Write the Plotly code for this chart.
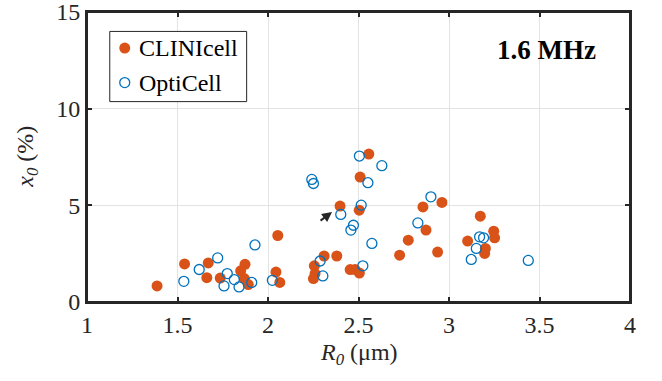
import plotly.graph_objects as go

# CLINIcell (filled)
clini_r0 = [1.387, 1.539, 1.670, 1.662, 1.736, 1.873, 1.849, 1.869, 1.891, 2.054,
            2.044, 2.065, 2.256, 2.260, 2.251, 2.310, 2.380, 2.398, 2.504, 2.509,
            2.557, 2.454, 2.481, 2.505, 2.727, 2.775, 2.873, 2.856, 2.961, 2.937,
            3.173, 3.103, 3.247, 3.252, 3.201, 3.197]
clini_x0 = [0.83, 1.97, 2.02, 1.26, 1.24, 1.95, 1.61, 1.21, 0.90, 3.44,
            1.55, 1.01, 1.87, 1.47, 1.21, 2.38, 2.38, 4.96, 4.75, 6.46,
            7.65, 1.68, 1.68, 1.50, 2.42, 3.20, 3.72, 4.92, 5.15, 2.58,
            4.44, 3.15, 3.66, 3.32, 2.77, 2.51]

# OptiCell (open)
opti_r0 = [1.535, 1.620, 1.722, 1.775, 1.757, 1.814, 1.840, 1.910, 1.928, 2.024,
           2.242, 2.251, 2.505, 2.629, 2.552, 2.515, 2.402, 2.472, 2.458, 2.574,
           2.288, 2.303, 2.524, 2.900, 2.828, 3.169, 3.191, 3.151, 3.123, 3.438]
opti_x0 = [1.07, 1.68, 2.28, 1.47, 0.83, 1.16, 0.78, 1.01, 2.95, 1.12,
           6.34, 6.13, 7.55, 7.05, 6.17, 5.01, 4.53, 3.97, 3.72, 3.03,
           2.12, 1.35, 1.87, 5.44, 4.09, 3.37, 3.32, 2.77, 2.20, 2.15]

x_ticks = [1, 1.5, 2, 2.5, 3, 3.5, 4]
x_tick_labels = ["1", "1.5", "2", "2.5", "3", "3.5", "4"]
y_ticks = [0, 5, 10, 15]
y_tick_labels = ["0", "5", "10", "15"]

series_names = ["CLINIcell", "OptiCell"]
ORANGE = "#D95319"
BLUE = "#0072BD"
FONT = "Liberation Serif"
DARK = "#262626"
FS = 24

fig = go.Figure()
fig.add_trace(go.Scatter(
    x=clini_r0, y=clini_x0, mode="markers", name=series_names[0], showlegend=False,
    marker=dict(symbol="circle", size=11, color=ORANGE, line=dict(width=0)),
))
fig.add_trace(go.Scatter(
    x=opti_r0, y=opti_x0, mode="markers", name=series_names[1], showlegend=False,
    marker=dict(symbol="circle-open", size=10, color=BLUE, line=dict(width=1.3, color=BLUE)),
))

axis_common = dict(
    showline=True, linewidth=2, linecolor=DARK, mirror="ticks",
    ticks="inside", ticklen=5, tickwidth=1.5, tickcolor=DARK,
    showgrid=True, gridcolor="#e3e3e3", gridwidth=1, zeroline=False,
    automargin=False, ticklabeloverflow="allow",
    tickfont=dict(family=FONT, size=FS, color=DARK),
)
fig.update_xaxes(range=[1, 4], tickvals=x_ticks, ticktext=x_tick_labels, **axis_common)
fig.update_yaxes(range=[0, 15], tickvals=y_ticks, ticktext=y_tick_labels, **axis_common)

# arrow pointing to a highlighted point
arrow_tail = (2.282, 4.15)
arrow_head = (2.354, 4.66)

# hand-placed legend box (paper coordinates)
leg_box = dict(x0=0.0419, x1=0.294, y0=0.691, y1=0.933)
leg_mark_x = 0.0695
leg_text_x = 0.0915
leg_rows_y = [0.8756, 0.7567]

shapes = [
    # plot frame
    dict(type="rect", xref="paper", yref="paper", x0=0, x1=1, y0=0, y1=1,
         line=dict(color=DARK, width=2), fillcolor="rgba(0,0,0,0)", layer="above"),
    dict(type="rect", xref="paper", yref="paper", **leg_box,
         line=dict(color=DARK, width=1), fillcolor="white", layer="above"),
    dict(type="circle", xref="paper", yref="paper", xsizemode="pixel", ysizemode="pixel",
         xanchor=leg_mark_x, yanchor=leg_rows_y[0], x0=-5.5, x1=5.5, y0=-5.5, y1=5.5,
         fillcolor=ORANGE, line=dict(width=0), layer="above"),
    dict(type="circle", xref="paper", yref="paper", xsizemode="pixel", ysizemode="pixel",
         xanchor=leg_mark_x, yanchor=leg_rows_y[1], x0=-5, x1=5, y0=-5, y1=5,
         fillcolor="rgba(0,0,0,0)", line=dict(width=1.3, color=BLUE), layer="above"),
]

annotations = [
    dict(text=series_names[0], xref="paper", yref="paper", x=leg_text_x, y=leg_rows_y[0],
         showarrow=False, xanchor="left", yanchor="middle",
         font=dict(family=FONT, size=FS, color="black")),
    dict(text=series_names[1], xref="paper", yref="paper", x=leg_text_x, y=leg_rows_y[1],
         showarrow=False, xanchor="left", yanchor="middle",
         font=dict(family=FONT, size=FS, color="black")),
    dict(text="<i>R<sub>0</sub></i> (μm)", xref="paper", yref="paper",
         x=0.5, y=-0.181, showarrow=False, xanchor="center", yanchor="middle",
         font=dict(family=FONT, size=FS, color=DARK)),
    dict(text="<i>x<sub>0</sub></i> (%)", xref="paper", yref="paper",
         x=-0.111, y=0.5, showarrow=False, textangle=-90,
         xanchor="center", yanchor="middle",
         font=dict(family=FONT, size=FS, color=DARK)),
    dict(text="<b>1.6 MHz</b>", xref="paper", yref="paper",
         x=0.847, y=0.870, showarrow=False, xanchor="center", yanchor="middle",
         font=dict(family=FONT, size=27, color="black")),
    dict(text="", x=arrow_head[0], y=arrow_head[1], xref="x", yref="y",
         ax=arrow_tail[0], ay=arrow_tail[1], axref="x", ayref="y",
         showarrow=True, arrowhead=2, arrowsize=1, arrowwidth=2, arrowcolor=DARK),
]

fig.update_layout(
    width=662, height=381,
    margin=dict(l=87, r=32, t=12, b=79),
    paper_bgcolor="white", plot_bgcolor="white",
    font=dict(family=FONT, size=FS, color=DARK),
    showlegend=False,
    shapes=shapes,
    annotations=annotations,
)

fig.write_html("out.html", config={"displayModeBar": False},
               post_script="document.body.style.margin='0px';")
